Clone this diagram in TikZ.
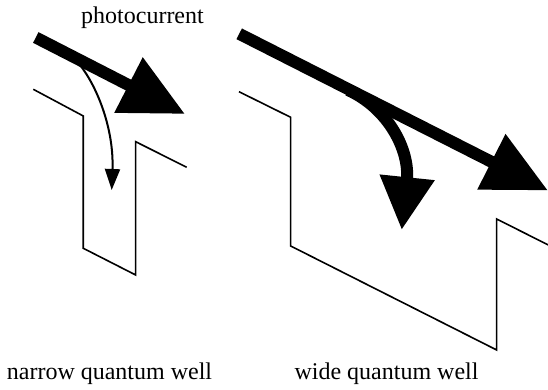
\documentclass[tikz,border=0pt]{standalone}
\usepackage{fontspec}
\setmainfont{Liberation Serif}
\usetikzlibrary{arrows.meta}

\begin{document}
\begin{tikzpicture}[x=0.5pt, y=-0.5pt,
  well/.style={line width=0.8pt, line join=miter},
  beam/.style={line width=6pt, -{Triangle[length=31.75pt, width=29.5pt]}},
  thincapture/.style={line width=1pt, -{Triangle[length=10.5pt, width=7.5pt]}},
  thickcapture/.style={line width=6pt, -{Triangle[length=26.5pt, width=26pt]}},
  caption/.style={font=\rmfamily\fontsize{12}{14}\selectfont, anchor=base, inner sep=0pt}
]
\useasboundingbox (0,0) rectangle (548,390);

% narrow well
\draw[well] (33.3,89.3) -- (83.3,116) -- (83.3,248.3) -- (135.7,275)
  -- (135.7,141.7) -- (186.7,167.3);
\coordinate (nstart) at (35.8,37.5);
\coordinate (ntip) at (185,114);
\coordinate (nsplit) at (80,65);
\coordinate (ndown) at (111.7,190);
\draw[beam] (nstart) -- (ntip);
\draw[thincapture] (nsplit) .. controls (98,88) and (114,130) .. (ndown);

% wide well
\draw[well] (239,91.7) -- (290.7,117.3) -- (290.7,246) -- (496.7,350)
  -- (496.7,219) -- (548.3,245);
\coordinate (wstart) at (239.2,33.8);
\coordinate (wtip) at (548,190.5);
\coordinate (wsplit) at (348,90);
\coordinate (wdown) at (401.7,230);
\draw[beam] (wstart) -- (wtip);
\draw[thickcapture] (wsplit) .. controls (388,108) and (410,150) .. (wdown);

% labels
\node[caption] (photo) at (142.5,24) {photocurrent};
\node[caption] (narrow) at (109.5,380) {narrow quantum well};
\node[caption] (wide) at (386.5,380) {wide quantum well};
\end{tikzpicture}
\end{document}
